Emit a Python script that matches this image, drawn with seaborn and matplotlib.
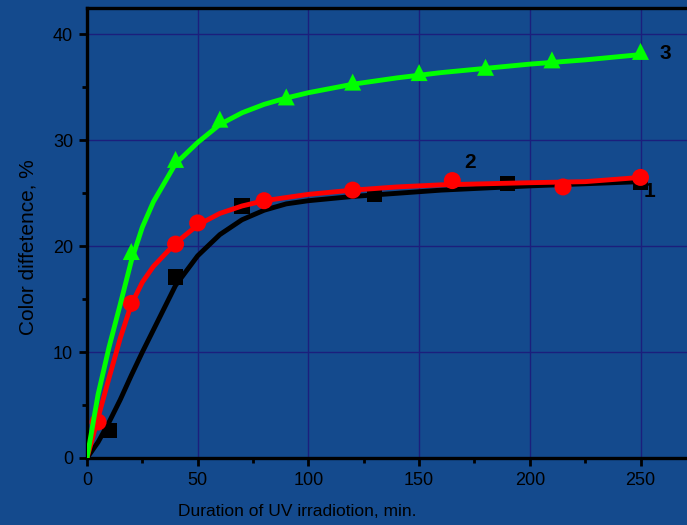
import numpy as np
import pandas as pd
import seaborn as sns
import matplotlib.pyplot as plt
from matplotlib.ticker import MultipleLocator

# measured points
t_sq = [10, 40, 70, 130, 190, 250]
d_sq = [2.6, 17.1, 23.8, 24.9, 25.9, 26.0]
t_ci = [5, 20, 40, 50, 80, 120, 165, 215, 250]
d_ci = [3.4, 14.6, 20.2, 22.2, 24.3, 25.3, 26.2, 25.6, 26.5]
t_tr = [20, 40, 60, 90, 120, 150, 180, 210, 250]
d_tr = [19.5, 28.2, 32.0, 34.1, 35.5, 36.4, 36.9, 37.6, 38.4]

# fitted curves
t_fit = [0, 5, 10, 15, 20, 25, 30, 40, 50, 60, 70, 80, 90, 100,
         120, 140, 160, 180, 200, 225, 250]
fit_1 = [0, 1.5, 3.4, 5.5, 7.8, 10.0, 12.1, 16.3, 19.1, 21.1, 22.5, 23.4, 24.0, 24.3,
         24.7, 25.0, 25.3, 25.5, 25.7, 25.9, 26.1]
fit_2 = [0, 3.8, 7.6, 11.3, 14.5, 16.6, 18.1, 20.3, 22.0, 23.1, 23.8, 24.3, 24.6, 24.9,
         25.3, 25.6, 25.8, 25.9, 26.0, 26.1, 26.5]
fit_3 = [0, 6.0, 10.5, 14.5, 18.6, 21.8, 24.2, 27.8, 29.8, 31.5, 32.6, 33.4, 34.0, 34.5,
         35.3, 35.9, 36.4, 36.8, 37.2, 37.6, 38.1]

curve_labels = ["1", "2", "3"]
label_pos = [(254, 25.2), (173, 27.9), (261, 38.2)]

bg = "#144a8d"
sns.set_style("ticks", {"axes.facecolor": bg, "figure.facecolor": bg})
plt.rcParams["font.family"] = ["Liberation Sans", "DejaVu Sans"]

fig = plt.figure(figsize=(6.87, 5.25), dpi=100)
ax = fig.add_axes([87 / 687, 67 / 525, 1 - 87 / 687, 450 / 525])

ax.grid(True, which="major", color="#1b1f7c", linewidth=1.0)
ax.set_axisbelow(True)

sns.lineplot(x=t_fit, y=fit_1, color="black", linewidth=3.5, estimator=None,
             sort=False, ax=ax, zorder=3)
sns.lineplot(x=t_fit, y=fit_2, color="#ff0000", linewidth=3.5, estimator=None,
             sort=False, ax=ax, zorder=3.2)
sns.lineplot(x=t_fit, y=fit_3, color="#00ff00", linewidth=3.5, estimator=None,
             sort=False, ax=ax, zorder=4)

sns.scatterplot(x=t_sq, y=d_sq, marker="s", s=120, color="black",
                edgecolor="none", ax=ax, zorder=2)
sns.scatterplot(x=t_ci, y=d_ci, marker="o", s=150, color="#ff0000",
                edgecolor="none", ax=ax, zorder=3.5)
sns.scatterplot(x=t_tr, y=d_tr, marker="^", s=150, color="#00ff00",
                edgecolor="none", ax=ax, zorder=4.5)

for lab, (x, y) in zip(curve_labels, label_pos):
    ax.text(x, y, lab, fontsize=15, fontweight="bold", color="black",
            ha="center", va="center")

ax.set_xlim(0, 271)
ax.set_ylim(0, 42.5)
ax.xaxis.set_major_locator(MultipleLocator(50))
ax.xaxis.set_minor_locator(MultipleLocator(25))
ax.yaxis.set_major_locator(MultipleLocator(10))
ax.yaxis.set_minor_locator(MultipleLocator(5))
ax.tick_params(which="major", direction="out", length=6, width=2, labelsize=13,
               colors="black", pad=4)
ax.tick_params(which="minor", direction="out", length=3.5, width=2, colors="black")

ax.spines["right"].set_visible(False)
for s in ["left", "bottom", "top"]:
    ax.spines[s].set_linewidth(2.4)
    ax.spines[s].set_color("black")

ax.set_xlabel("Duration of UV irradiotion, min.", fontsize=12.5, color="black")
ax.set_ylabel("Color diffetence, %", fontsize=15, color="black")
ax.xaxis.set_label_coords(0.35, -0.102)
ax.yaxis.set_label_coords(-0.083, 0.469)

fig.savefig("out.png", dpi=100, facecolor=bg)
